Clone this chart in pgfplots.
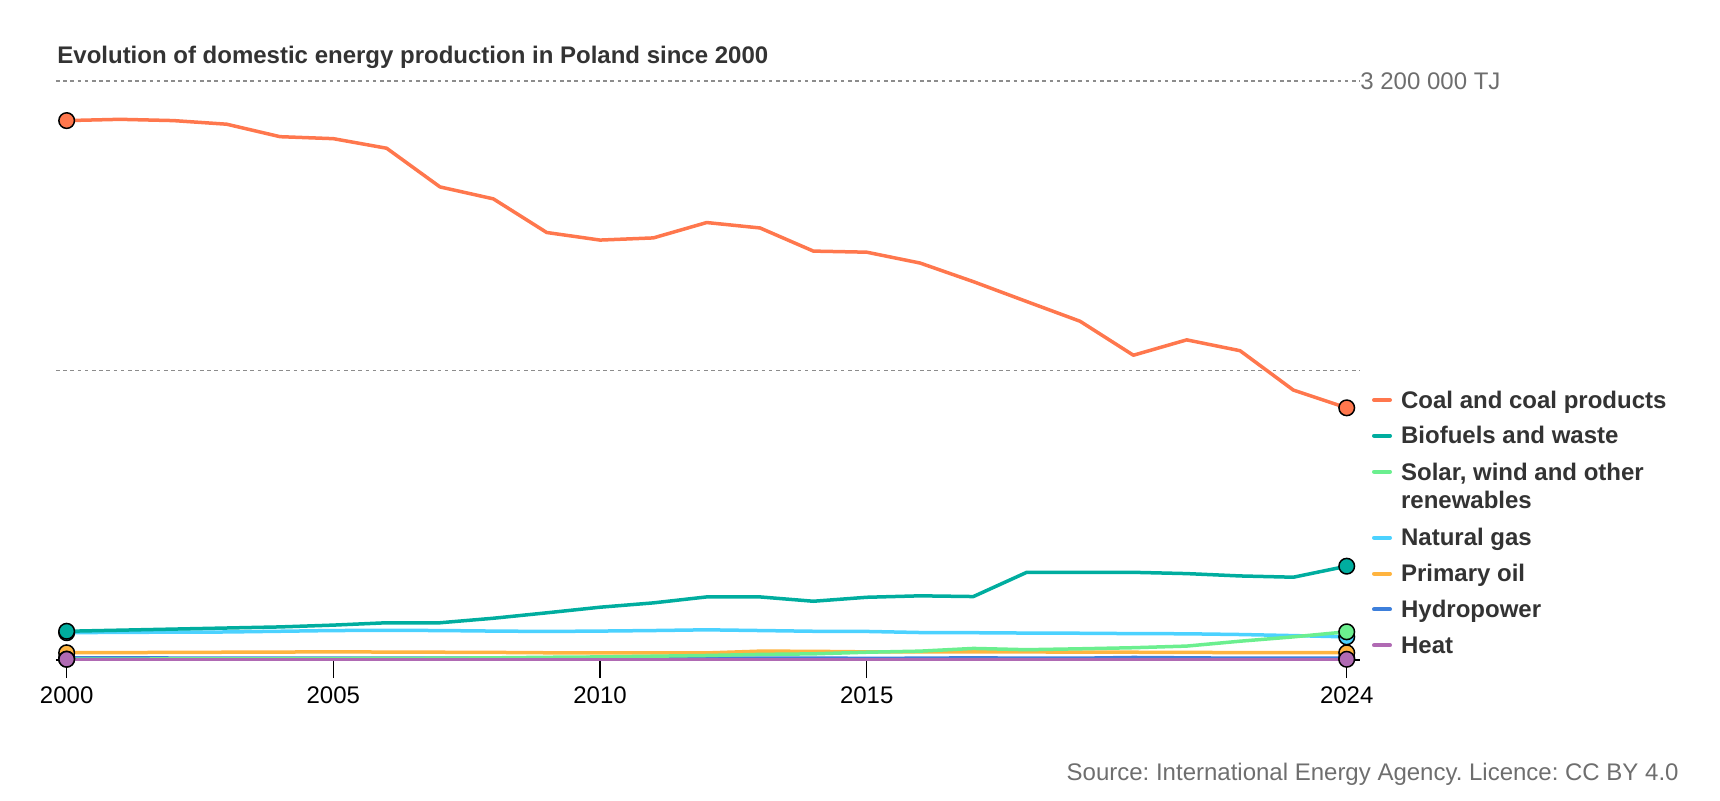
\documentclass[border=0pt]{standalone}
\usepackage{fontspec}
\setmainfont{Liberation Sans}
\usepackage{pgfplots}
\pgfplotsset{compat=1.18}
\usepackage{pgfplotstable}
\definecolor{coal}{HTML}{FF774D}
\definecolor{bio}{HTML}{00AD9F}
\definecolor{solar}{HTML}{6BEF8F}
\definecolor{gas}{HTML}{4CD2FF}
\definecolor{oil}{HTML}{FFB43F}
\definecolor{hydro}{HTML}{3D7FDB}
\definecolor{heat}{HTML}{B06AB3}
\definecolor{gridgray}{HTML}{8C8C8C}
\definecolor{labelgray}{HTML}{6E6E6E}
\definecolor{textdark}{HTML}{333333}
\pgfplotstableread{
year coal bio solar gas oil hydro heat
2000 2981000 156000 2000 148000 37000 9000 1000
2001 2988000 162000 2000 150000 38000 9000 1000
2002 2981000 168000 3000 151000 39000 8000 1000
2003 2961000 174000 3000 152000 40000 7000 1000
2004 2892000 180000 4000 156000 41000 8000 1000
2005 2881000 190000 5000 160000 42000 8000 1000
2006 2828000 203000 6000 161000 41000 7000 1000
2007 2614000 203000 7000 160000 40000 8000 1000
2008 2548000 228000 9000 157000 39000 8000 1000
2009 2362000 258000 12000 155000 37000 8000 1000
2010 2320000 289000 14000 157000 37000 10000 1000
2011 2332000 313000 18000 160000 36000 8000 1000
2012 2417000 346000 22000 164000 36000 7000 1000
2013 2387000 346000 28000 160000 46000 8000 1000
2014 2259000 322000 31000 156000 45000 8000 1000
2015 2253000 344000 40000 155000 42000 6000 1000
2016 2193000 352000 46000 149000 42000 7000 1000
2017 2090000 348000 61000 148000 42000 9000 1000
2018 1980000 482000 54000 146000 42000 7000 1000
2019 1871000 482000 59000 145000 40000 7000 1000
2020 1683000 482000 65000 143000 40000 11000 1000
2021 1768000 475000 74000 142000 39000 9000 1000
2022 1708000 462000 101000 138000 38000 7000 1000
2023 1490000 455000 125000 132000 38000 8000 1000
2024 1392000 516000 153000 125000 37000 8000 1000
}\datatable
\begin{document}
\frenchspacing
\fontsize{12}{14.4}\selectfont
\begin{tikzpicture}
\path[use as bounding box] (0,0) rectangle (860pt,400pt);
\begin{axis}[
  at={(28pt,70pt)}, anchor=south west,
  scale only axis, width=652pt, height=289.5pt,
  xmin=1999.8, xmax=2024.249, ymin=-3000, ymax=3200000,
  axis x line*=bottom, axis y line*=left,
  y axis line style={draw=none},
  x axis line style={black, line width=1pt},
  xtick={2000,2005,2010,2015,2024},
  xticklabels={2000,2005,2010,2015,2024},
  ytick={1600000,3200000}, yticklabels={},
  ytick style={draw=none},
  xtick style={black, line width=0.7pt},
  tick align=outside, major tick length=9pt,
  ymajorgrids,
  major grid style={draw=gridgray, line width=0.7pt, dash pattern=on 1.8pt off 1.8pt},
  xticklabel style={font=\fontsize{12}{14}\selectfont, text=black},
  scaled y ticks=false,
  clip=false,
  every axis plot/.append style={line width=1.75pt, line join=round, mark=*, mark indices={1,25}, mark size=3.9pt,
    mark options={draw=black, line width=0.75pt}},
]
\addplot[color=gas] table[x=year,y=gas]{\datatable};
\addplot[color=hydro] table[x=year,y=hydro]{\datatable};
\addplot[color=oil] table[x=year,y=oil]{\datatable};
\addplot[color=solar] table[x=year,y=solar]{\datatable};
\addplot[color=bio] table[x=year,y=bio]{\datatable};
\addplot[color=coal] table[x=year,y=coal]{\datatable};
\addplot[color=heat] table[x=year,y=heat]{\datatable};
\node[anchor=west, inner sep=0pt, text=labelgray] at (axis cs:2024.249,3200000) {3 200 000 TJ};
\end{axis}
% title
\node[anchor=base west, inner sep=0pt, text=textdark, font=\bfseries] at (28.5pt,368.35pt) {Evolution of domestic energy production in Poland since 2000};
% source
\node[anchor=base east, inner sep=0pt, text=labelgray] at (839.5pt,9.65pt) {Source: International Energy Agency. Licence: CC BY 4.0};
% legend
\begin{scope}[line width=2pt, line cap=round]
\draw[coal] (687pt,200pt) -- (695pt,200pt);
\draw[bio] (687pt,182.15pt) -- (695pt,182.15pt);
\draw[solar] (687pt,164.15pt) -- (695pt,164.15pt);
\draw[gas] (687pt,131.15pt) -- (695pt,131.15pt);
\draw[oil] (687pt,113.15pt) -- (695pt,113.15pt);
\draw[hydro] (687pt,95.35pt) -- (695pt,95.35pt);
\draw[heat] (687pt,77.35pt) -- (695pt,77.35pt);
\end{scope}
\begin{scope}[every node/.style={anchor=base west, inner sep=0pt, text=textdark, font=\bfseries}]
\node at (700.35pt,195.85pt) {Coal and coal products};
\node at (700.35pt,178.35pt) {Biofuels and waste};
\node at (700.35pt,160pt) {Solar, wind and other};
\node at (700.35pt,145.85pt) {renewables};
\node at (700.35pt,127.5pt) {Natural gas};
\node at (700.35pt,109.15pt) {Primary oil};
\node at (700.35pt,91.35pt) {Hydropower};
\node at (700.35pt,73.35pt) {Heat};
\end{scope}
\end{tikzpicture}
\end{document}
